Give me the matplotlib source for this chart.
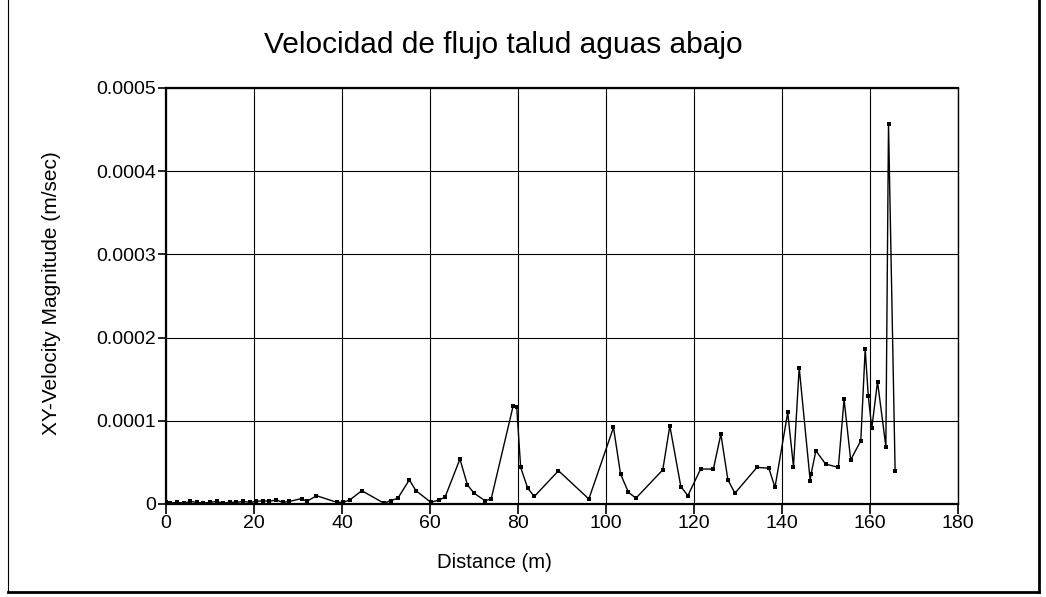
import matplotlib
matplotlib.use("Agg")
import matplotlib.pyplot as plt
from matplotlib.lines import Line2D

# --- Datos ---
distancia = [0, 1, 2.5, 4, 5.5, 7, 8.5, 10, 11.5, 13, 14.5, 16, 17.5, 19, 20.5,
             22, 23.5, 25, 26.5, 28, 30.8, 32, 34.2, 38.8, 40.3, 41.8, 44.5,
             49.5, 51.1, 52.7, 55.3, 56.8, 60.2, 62.1, 63.4, 66.8, 68.5, 70,
             72.5, 73.9, 78.9, 79.7, 80.6, 82.2, 83.7, 89.2, 96.1, 101.7, 103.3,
             105.1, 106.8, 112.9, 114.5, 117, 118.6, 121.5, 124.4, 126.1, 127.7,
             129.3, 134.3, 137, 138.4, 141.3, 142.6, 143.9, 146.4, 146.6, 147.7,
             149.9, 152.8, 154.1, 155.6, 157.9, 158.9, 159.6, 160.4, 161.7,
             163.6, 164.2, 165.7]
velocidad = [0.000002, 0.000001, 0.000002, 0.000001, 0.000003, 0.000002,
             0.000001, 0.000002, 0.000003, 0.000001, 0.000002, 0.000002,
             0.000003, 0.000002, 0.000003, 0.000004, 0.000003, 0.000005,
             0.000002, 0.000003, 0.0000065, 0.000003, 0.00001, 0.000002,
             0.000002, 0.000005, 0.000016, 0.000001, 0.000004, 0.000007,
             0.000029, 0.000016, 0.000002, 0.000005, 0.000008, 0.000054,
             0.000023, 0.000013, 0.000004, 0.000006, 0.000118, 0.000117,
             0.000044, 0.000019, 0.000009, 0.00004, 0.000006, 0.000092,
             0.000036, 0.000014, 0.000007, 0.000041, 0.000094, 0.000021,
             0.00001, 0.000042, 0.000042, 0.000084, 0.000029, 0.000013,
             0.000044, 0.000043, 0.00002, 0.00011, 0.000045, 0.000164,
             0.000028, 0.000036, 0.000064, 0.000048, 0.000044, 0.000126,
             0.000053, 0.000076, 0.000186, 0.00013, 0.000091, 0.000147,
             0.000069, 0.000457, 0.00004]

yticks = [0, 0.0001, 0.0002, 0.0003, 0.0004, 0.0005]
ytick_labels = ["0", "0.0001", "0.0002", "0.0003", "0.0004", "0.0005"]
xticks = [0, 20, 40, 60, 80, 100, 120, 140, 160, 180]

plt.rcParams['font.family'] = ['Liberation Sans', 'DejaVu Sans']

fig = plt.figure(figsize=(10.46, 5.97), dpi=100)
ax = fig.add_axes([0.1587, 0.1558, 0.7572, 0.6968])

ax.plot(distancia, velocidad, color='black', linewidth=1.0,
        marker='s', markersize=3.0, markerfacecolor='black', markeredgewidth=0)

ax.set_xlim(0, 180)
ax.set_ylim(0, 0.0005)
ax.set_xticks(xticks)
ax.set_yticks(yticks)
ax.set_yticklabels(ytick_labels)
ax.grid(True, color='black', linewidth=0.8)
ax.set_axisbelow(True)

ax.tick_params(axis='both', labelsize=14, color='black', width=1.2)
ax.tick_params(axis='x', length=7, pad=1)
ax.tick_params(axis='y', length=6, pad=1)

for lado in ['left', 'bottom', 'top']:
    ax.spines[lado].set_linewidth(1.6)
ax.spines['right'].set_linewidth(1.0)

# titulo y etiquetas (no centrados sobre el eje en el original)
fig.text(503 / 1046, 1 - 45 / 597, "Velocidad de flujo talud aguas abajo",
         fontsize=21.5, ha='center', va='center')
fig.text(494 / 1046, 1 - 562 / 597, "Distance (m)",
         fontsize=14.6, ha='center', va='center')
fig.text(52 / 1046, 1 - 293 / 597, "XY-Velocity Magnitude (m/sec)",
         fontsize=15, ha='center', va='center', rotation=90)

# marco de la figura
fig.add_artist(Line2D([0.008, 0.008], [0.008, 1.0], color='black', linewidth=0.8))
fig.add_artist(Line2D([0.993, 0.993], [0.008, 1.0], color='black', linewidth=2.0))
fig.add_artist(Line2D([0.008, 0.993], [0.008, 0.008], color='black', linewidth=2.0))

fig.savefig("out.png", dpi=100)
